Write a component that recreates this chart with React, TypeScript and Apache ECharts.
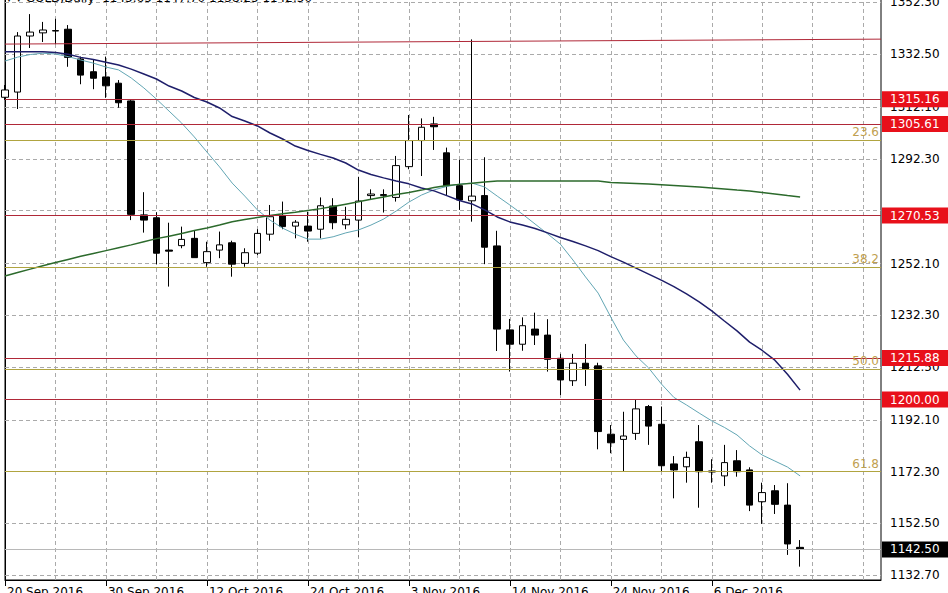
import React, { useEffect, useRef } from 'react';
import * as echarts from 'echarts';

const dates = [
  '20 Sep 2016', '21 Sep 2016', '22 Sep 2016', '23 Sep 2016', '26 Sep 2016', '27 Sep 2016', '28 Sep 2016', '29 Sep 2016',
  '30 Sep 2016', '3 Oct 2016', '4 Oct 2016', '5 Oct 2016', '6 Oct 2016', '7 Oct 2016', '10 Oct 2016', '11 Oct 2016',
  '12 Oct 2016', '13 Oct 2016', '14 Oct 2016', '17 Oct 2016', '18 Oct 2016', '19 Oct 2016', '20 Oct 2016', '21 Oct 2016',
  '24 Oct 2016', '25 Oct 2016', '26 Oct 2016', '27 Oct 2016', '28 Oct 2016', '31 Oct 2016', '1 Nov 2016', '2 Nov 2016',
  '3 Nov 2016', '4 Nov 2016', '6 Nov 2016', '7 Nov 2016', '8 Nov 2016', '9 Nov 2016', '10 Nov 2016', '11 Nov 2016',
  '14 Nov 2016', '15 Nov 2016', '16 Nov 2016', '17 Nov 2016', '18 Nov 2016', '21 Nov 2016', '22 Nov 2016', '23 Nov 2016',
  '24 Nov 2016', '25 Nov 2016', '28 Nov 2016', '29 Nov 2016', '30 Nov 2016', '1 Dec 2016', '2 Dec 2016', '5 Dec 2016',
  '6 Dec 2016', '7 Dec 2016', '8 Dec 2016', '9 Dec 2016', '12 Dec 2016', '13 Dec 2016', '14 Dec 2016', '15 Dec 2016',
];

const opens = [
  1315.9, 1317.9, 1339.4, 1340.6, 1341.3, 1342.0, 1330.6, 1325.7,
  1323.7, 1321.3, 1314.5, 1270.8, 1269.7, 1257.3, 1259.0, 1261.8,
  1252.5, 1257.3, 1260.1, 1252.2, 1256.1, 1263.4, 1270.4, 1266.5,
  1266.5, 1265.3, 1274.2, 1267.0, 1268.8, 1278.2, 1278.2, 1277.5,
  1289.3, 1299.3, 1305.7, 1294.6, 1282.0, 1276.2, 1278.2, 1258.9,
  1226.7, 1221.2, 1227.0, 1224.7, 1215.8, 1207.2, 1213.9, 1212.9,
  1186.7, 1184.7, 1187.0, 1197.3, 1190.5, 1175.3, 1174.2, 1183.8,
  1172.6, 1170.7, 1176.5, 1173.0, 1160.8, 1165.0, 1159.5, 1143.3,
];
const closes = [
  1318.7, 1339.4, 1340.9, 1341.7, 1341.5, 1331.2, 1324.4, 1323.2,
  1320.3, 1313.8, 1271.0, 1268.8, 1256.1, 1256.9, 1261.4, 1254.4,
  1256.7, 1259.3, 1251.9, 1256.3, 1263.7, 1270.1, 1266.3, 1268.0,
  1264.6, 1274.3, 1267.8, 1269.1, 1276.1, 1278.8, 1278.6, 1289.7,
  1299.3, 1304.4, 1304.6, 1282.0, 1276.5, 1278.0, 1258.4, 1227.0,
  1221.2, 1228.3, 1224.7, 1215.4, 1207.5, 1213.9, 1211.7, 1187.7,
  1183.4, 1186.0, 1196.4, 1189.8, 1174.6, 1173.0, 1177.8, 1172.3,
  1172.2, 1175.8, 1172.3, 1159.5, 1164.3, 1159.8, 1144.6, 1142.5,
];
const lows = [
  1314.9, 1311.4, 1334.8, 1337.1, 1336.3, 1327.6, 1320.9, 1319.0,
  1315.7, 1311.9, 1268.8, 1264.0, 1251.9, 1243.3, 1258.0, 1254.4,
  1250.9, 1254.2, 1247.1, 1250.9, 1255.4, 1260.9, 1265.3, 1261.8,
  1260.5, 1261.8, 1265.3, 1265.3, 1262.2, 1276.5, 1271.7, 1275.9,
  1288.3, 1285.7, 1295.7, 1278.4, 1272.7, 1268.2, 1251.9, 1218.6,
  1210.7, 1218.7, 1220.9, 1210.7, 1201.7, 1205.2, 1205.2, 1180.9,
  1179.4, 1172.3, 1184.5, 1182.6, 1172.3, 1162.1, 1168.1, 1158.5,
  1168.1, 1166.8, 1170.4, 1157.2, 1152.3, 1156.1, 1140.4, 1135.9,
];
const highs = [
  1320.6, 1340.9, 1347.8, 1344.8, 1346.0, 1343.6, 1331.5, 1330.2,
  1331.5, 1322.5, 1315.2, 1279.5, 1271.8, 1267.8, 1266.3, 1265.0,
  1260.5, 1264.4, 1260.9, 1258.0, 1265.3, 1274.6, 1275.9, 1268.8,
  1272.0, 1277.5, 1277.2, 1273.9, 1285.4, 1280.6, 1280.6, 1293.4,
  1309.1, 1307.8, 1308.4, 1296.6, 1291.9, 1338.1, 1292.9, 1264.7,
  1230.9, 1231.5, 1233.3, 1230.8, 1217.5, 1217.5, 1221.3, 1214.1,
  1190.2, 1195.3, 1200.1, 1197.9, 1197.3, 1178.3, 1180.0, 1190.2,
  1177.1, 1182.6, 1180.6, 1174.0, 1168.1, 1167.2, 1167.9, 1146.1,
];

const maFast = [
  1329.8, 1331.3, 1332.3, 1332.8, 1332.5, 1331.5, 1330.2, 1329.0,
  1327.5, 1326.4, 1323.3, 1319.5, 1315.2, 1310.6, 1306.0, 1300.7,
  1294.9, 1289.2, 1283.0, 1278.0, 1272.7, 1268.8, 1265.7, 1263.4,
  1261.5, 1261.5, 1262.4, 1263.9, 1265.0, 1266.9, 1269.2, 1272.3,
  1275.7, 1278.4, 1280.4, 1281.7, 1282.6, 1283.0, 1281.5, 1278.0,
  1274.6, 1271.1, 1267.3, 1263.5, 1259.6, 1253.5, 1247.0, 1240.8,
  1231.6, 1222.8, 1216.7, 1212.1, 1206.0, 1200.8, 1197.9, 1194.8,
  1191.8, 1189.3, 1186.4, 1182.2, 1178.7, 1176.4, 1174.1, 1170.7,
];
const maMid = [
  1333.4, 1333.4, 1333.4, 1333.4, 1333.1, 1332.4, 1331.2, 1330.4,
  1329.3, 1328.3, 1326.7, 1324.8, 1322.9, 1320.2, 1318.3, 1315.8,
  1314.1, 1311.8, 1308.5, 1306.8, 1304.9, 1302.2, 1299.9, 1297.2,
  1295.5, 1294.0, 1292.6, 1290.7, 1288.0, 1286.3, 1285.0, 1283.8,
  1282.7, 1281.1, 1280.0, 1278.2, 1276.3, 1275.0, 1272.7, 1270.0,
  1268.1, 1266.9, 1265.6, 1263.9, 1262.1, 1260.6, 1258.9, 1257.1,
  1254.8, 1252.7, 1250.4, 1248.1, 1245.8, 1243.3, 1240.5, 1237.4,
  1234.0, 1230.1, 1226.3, 1222.0, 1218.8, 1215.1, 1209.7, 1203.6,
];
const maSlow = [
  1247.4, 1248.7, 1250.0, 1251.3, 1252.5, 1253.7, 1254.9, 1256.0,
  1257.1, 1258.2, 1259.3, 1260.5, 1261.7, 1262.6, 1263.7, 1264.8,
  1265.8, 1266.9, 1268.2, 1269.0, 1269.8, 1270.6, 1271.2, 1271.8,
  1272.5, 1273.2, 1274.0, 1274.9, 1275.8, 1276.8, 1277.7, 1278.6,
  1279.4, 1280.3, 1281.3, 1282.1, 1282.5, 1282.9, 1283.4, 1283.8,
  1283.8, 1283.8, 1283.8, 1283.8, 1283.8, 1283.8, 1283.8, 1283.8,
  1283.2, 1283.0, 1282.8, 1282.6, 1282.4, 1282.1, 1281.8, 1281.5,
  1281.1, 1280.7, 1280.3, 1280.0, 1279.4, 1278.8, 1278.2, 1277.7,
];

const redLevels = [1315.16, 1305.61, 1270.53, 1215.88, 1200.0];
const fibLevels = [1299.5, 1250.9, 1211.6, 1172.3];
const fibLabels = ['23.6', '38.2', '50.0', '61.8'];
const lastPrice = 1142.5;
const trendStart = 1336.3;
const trendEnd = 1338.2;
const yTicks = [1352.3, 1332.5, 1312.1, 1292.3, 1272.5, 1252.1, 1232.3, 1212.5, 1192.1, 1172.3, 1152.5, 1132.7];
const yLabelTicks = [1352.3, 1332.5, 1312.1, 1292.3, 1252.1, 1232.3, 1212.5, 1192.1, 1172.3, 1152.5, 1132.7];
const xLabelIdx = [0, 8, 16, 24, 32, 40, 48, 56];
const xGridIdx = [4, 8, 12, 16, 20, 24, 28, 32, 36, 40, 44, 48, 52, 56, 60, 64, 68];
const titleText = '\u25BE \u25BE GOLD,Daily  1143.65 1147.70 1138.25 1142.50';

const Y_MIN = 1130.78;
const Y_MAX = 1353.59;
const X_MAX = 69.41;
const FONT = 'DejaVu Sans';

export default function App() {
  const ref = useRef<HTMLDivElement>(null);
  useEffect(() => {
    document.body.style.margin = '0';
    if (!ref.current) return;
    const chart = echarts.init(ref.current, undefined, { renderer: 'svg' });
    const candles = dates.map((_, i) => [i, opens[i], closes[i], lows[i], highs[i]]);
    const gridStyle = { color: '#aaaaaa', type: [4, 3] as any, width: 1 };
    chart.setOption({
      animation: false,
      backgroundColor: '#ffffff',
      grid: {
        left: 5, top: -1, width: 876, height: 581,
        outerBoundsMode: 'none', containLabel: false,
        show: true, borderColor: '#000000', borderWidth: 1, backgroundColor: 'transparent',
      },
      graphic: [
        {
          type: 'text', x: 6, y: 4, z: 10,
          style: { text: titleText, fontSize: 12, fontFamily: FONT, fill: '#000', verticalAlign: 'bottom' },
        },
      ],
      xAxis: {
        type: 'value', min: 0, max: X_MAX,
        axisLine: { show: true, lineStyle: { color: '#000' } },
        splitLine: { show: false },
        axisTick: { show: true, customValues: xLabelIdx, length: 6, lineStyle: { color: '#000' } },
        axisLabel: {
          customValues: xLabelIdx,
          formatter: (v: number) => dates[Math.round(v)] ?? '',
          align: 'left', verticalAlign: 'top', margin: 6, padding: [0, 0, 0, 2],
          fontSize: 12, fontFamily: FONT, color: '#000',
        },
      },
      yAxis: {
        type: 'value', position: 'right', min: Y_MIN, max: Y_MAX, scale: true,
        axisLine: { show: true, lineStyle: { color: '#000' } },
        splitLine: { show: false },
        axisTick: { show: true, customValues: yTicks, length: 4, lineStyle: { color: '#000' } },
        axisLabel: {
          customValues: yLabelTicks,
          formatter: (v: number) => v.toFixed(2),
          margin: 9, fontSize: 12, fontFamily: FONT, color: '#000',
        },
      },
      series: [
        {
          type: 'line', name: 'grid', data: [[0, null]], silent: true, symbol: 'none',
          markLine: {
            silent: true, symbol: ['none', 'none'], z: 1, label: { show: false },
            lineStyle: gridStyle,
            data: [
              ...yTicks.map((v) => ({ yAxis: v })),
              ...xGridIdx.map((v) => ({ xAxis: v })),
            ],
          },
        },
        {
          type: 'candlestick', name: 'GOLD', data: candles, z: 2,
          encode: { x: 0, y: [1, 2, 3, 4] },
          barWidth: 7,
          itemStyle: {
            color: '#ffffff', color0: '#000000',
            borderColor: '#000000', borderColor0: '#000000', borderColorDoji: '#000000',
            borderWidth: 1,
          },
        },
        {
          type: 'line', name: 'MA fast', data: maFast.map((v, i) => [i, v]), symbol: 'none', z: 3,
          lineStyle: { color: '#62a6b4', width: 1 },
        },
        {
          type: 'line', name: 'MA mid', data: maMid.map((v, i) => [i, v]), symbol: 'none', z: 3,
          lineStyle: { color: '#1e1e6a', width: 1.5 },
        },
        {
          type: 'line', name: 'MA slow', data: maSlow.map((v, i) => [i, v]), symbol: 'none', z: 3,
          lineStyle: { color: '#2c6a2c', width: 1.5 },
        },
        {
          type: 'line', name: 'levels', data: [[0, null]], silent: true, symbol: 'none',
          markLine: {
            silent: true, symbol: ['none', 'none'], z: 6,
            data: [
              ...fibLevels.map((v, i) => ({
                yAxis: v,
                lineStyle: { color: '#b0a440', width: 1, type: 'solid' },
                label: {
                  show: true, position: 'insideEndTop', formatter: fibLabels[i], distance: 2,
                  color: '#c0a050', fontSize: 12, fontFamily: FONT,
                },
              })),
              ...redLevels.map((v) => ({
                yAxis: v,
                lineStyle: { color: '#b02838', width: 1, type: 'solid' },
                label: {
                  show: true, position: 'end', formatter: v.toFixed(2), distance: 1,
                  color: '#ffffff', backgroundColor: '#e8101a', padding: [1, 12, 1, 8],
                  fontSize: 12, lineHeight: 14, fontFamily: FONT,
                },
              })),
              {
                yAxis: lastPrice,
                lineStyle: { color: '#b8b8b8', width: 1, type: 'solid' },
                label: {
                  show: true, position: 'end', formatter: lastPrice.toFixed(2), distance: 1,
                  color: '#ffffff', backgroundColor: '#000000', padding: [1, 12, 1, 8],
                  fontSize: 12, lineHeight: 14, fontFamily: FONT,
                },
              },
              [
                { coord: [0, trendStart], lineStyle: { color: '#b02838', width: 1, type: 'solid' }, label: { show: false } },
                { coord: [X_MAX, trendEnd] },
              ],
            ],
          },
        },
      ],
    });
    return () => chart.dispose();
  }, []);
  return <div ref={ref} style={{ width: 948, height: 593, background: '#fff' }} />;
}
